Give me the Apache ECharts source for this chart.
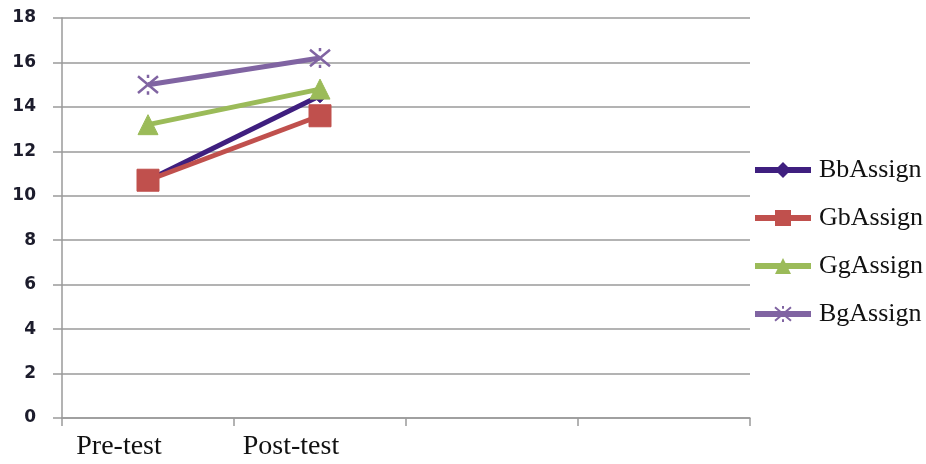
<!DOCTYPE html>
<html>
<head>
<meta charset="utf-8">
<script src="https://cdn.jsdelivr.net/npm/echarts@6/dist/echarts.min.js"></script>
<style>html,body{margin:0;padding:0;background:#fff}#c{width:926px;height:464px}</style>
</head>
<body>
<div id="c"></div>
<script>
const categories = ['Pre-test', 'Post-test', '', ''];
const seriesNames = ['BbAssign', 'GbAssign', 'GgAssign', 'BgAssign'];
const bbAssign = [10.7, 14.5];
const gbAssign = [10.7, 13.6];
const ggAssign = [13.2, 14.8];
const bgAssign = [15.0, 16.2];
const yTicks = [0, 2, 4, 6, 8, 10, 12, 14, 16, 18];

const colors = ['#3F1F7F', '#C0504D', '#9BBB59', '#8064A2'];
const symbols = ['diamond', 'rect', 'triangle', 'path://M0,0 L10,10 M10,0 L0,10 M5,-1 L5,1 M5,9 L5,11'];
const sizes = [14, 22, 20, 20];
const values = [bbAssign, gbAssign, ggAssign, bgAssign];

const chart = echarts.init(document.getElementById('c'));
chart.setOption({
  animation: false,
  grid: { left: 62, top: 18, right: 176, bottom: 46 },
  xAxis: {
    type: 'category',
    data: categories,
    boundaryGap: true,
    axisLine: { lineStyle: { color: '#9a9a9a', width: 1.5 } },
    axisTick: { show: true, length: 8, lineStyle: { color: '#9a9a9a', width: 1.5 } },
    axisLabel: {
      fontFamily: 'Liberation Serif', fontSize: 28, color: '#111',
      margin: 15, padding: [0, 58, 0, 0]
    },
    splitLine: { show: false }
  },
  yAxis: {
    type: 'value',
    min: yTicks[0], max: yTicks[yTicks.length - 1], interval: 2,
    axisLine: { show: true, lineStyle: { color: '#9a9a9a', width: 1.5 } },
    axisTick: { show: true, length: 9, lineStyle: { color: '#9a9a9a', width: 1.5 } },
    axisLabel: { fontFamily: 'DejaVu Sans', fontWeight: 'bold', fontSize: 17, color: '#1c1c2c', margin: 26 },
    splitLine: { lineStyle: { color: '#9a9a9a', width: 1.5 } }
  },
  legend: {
    orient: 'vertical',
    left: 747, top: 152,
    itemWidth: 56, itemHeight: 20, itemGap: 22,
    lineStyle: { width: 6 },
    textStyle: { fontFamily: 'Liberation Serif', fontSize: 26, color: '#111', padding: [0, 0, 0, 3] },
    data: seriesNames
  },
  series: seriesNames.map((n, i) => ({
    name: n,
    type: 'line',
    data: values[i],
    symbol: symbols[i],
    symbolSize: sizes[i],
    showSymbol: true,
    lineStyle: { color: colors[i], width: 5 },
    itemStyle: i === 3
      ? { color: colors[i], borderColor: colors[i], borderWidth: 2.5 }
      : { color: colors[i], borderColor: colors[i] },
    z: [3, 4, 5, 2][i]
  }))
});
</script>
</body>
</html>
